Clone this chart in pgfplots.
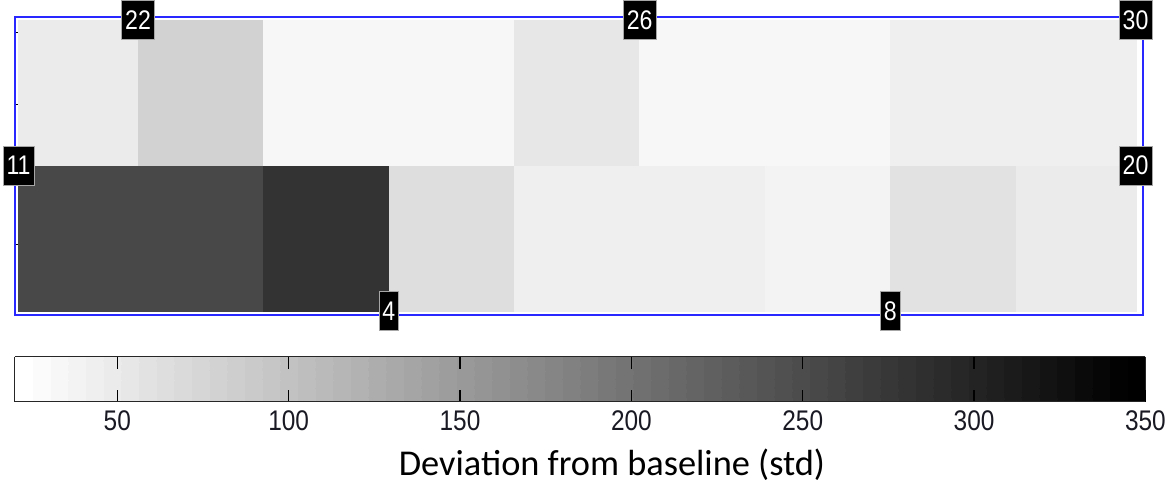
\documentclass[border=0pt]{standalone}
\usepackage{fontspec}
\setmainfont{Liberation Sans}
\newfontfamily\numfont[FakeStretch=0.86]{Liberation Sans}
\newfontfamily\titlefont{Carlito}
\usepackage{pgfplots}
\pgfplotsset{compat=1.18}
\definecolor{framblue}{RGB}{40,40,255}
\definecolor{ticktext}{RGB}{25,25,35}
\pgfplotsset{
  colormap={wb}{gray(0cm)=(1); gray(1cm)=(0)},
  colormap={wb64}{samples of colormap=(64 of wb)},
}
\begin{document}
\begin{tikzpicture}
\path[use as bounding box] (0,0) rectangle (1165bp,486bp);
\begin{axis}[
  at={(15bp,171bp)}, anchor=south west,
  scale only axis, width=1128bp, height=298bp,
  xmin=0.019, xmax=9.014, ymin=-0.0275, ymax=2.0206,
  axis line style={framblue, line width=1.6bp},
  xtick=\empty,
  ytick={0.454,1.416,1.911}, yticklabels={},
  ytick pos=left, tick align=inside,
  major tick length=3bp, tick style={black, line width=1bp},
  clip=false,
  colormap name=wb64,
  colormap access=piecewise constant,
  point meta min=20, point meta max=350,
  colorbar horizontal,
  colorbar style={
    at={(parent axis.south west)}, anchor=north west,
    xshift=-0.5bp, yshift=-33bp,
    scale only axis, width=1131bp, height=45bp,
    xtick={50,100,...,350},
    xtick pos=both, xticklabel pos=lower,
    xticklabel style={font=\numfont\fontsize{28.5}{28.5}\selectfont, text=ticktext, inner sep=0pt, yshift=-9bp},
    /pgf/number format/assume math mode=true,
    tick align=inside, major tick length=12bp,
    tick style={black, line width=1.5bp},
    axis line style={black!85, line width=1.5bp},
    xlabel={Deviation from baseline (std)},
    xlabel style={font=\titlefont\fontsize{36.5}{36.5}\selectfont, at={(axis description cs:0.5,0)}, anchor=base, xshift=32bp, yshift=-74bp, inner sep=0pt},
  },
]
% cell corners; each cell takes the value at its lower-left corner
\addplot[surf, shader=flat corner, mesh/cols=10, point meta=explicit] table[meta=v] {
x y v
0.043 0 252.9
1 0 252.9
2 0 281.4
3 0 64.0
4 0 42.0
5 0 42.0
6 0 36.8
7 0 58.8
8 0 47.2
8.959 0 47.2
0.043 1 47.2
1 1 80.8
2 1 31.6
3 1 31.6
4 1 53.7
5 1 31.6
6 1 31.6
7 1 43.3
8 1 43.3
8.959 1 43.3
0.043 2 47.2
1 2 80.8
2 2 31.6
3 2 31.6
4 2 53.7
5 2 31.6
6 2 31.6
7 2 43.3
8 2 43.3
8.959 2 43.3
};
\addplot[only marks, mark=*, mark size=0pt, mark options={draw=none, fill=none},
  nodes near coords, point meta=explicit symbolic,
  every node near coord/.append style={anchor=center, fill=black, draw=gray!70, line width=0.6bp, text=white, font=\numfont\fontsize{27}{27}\selectfont, inner xsep=3.5bp, inner ysep=0pt, minimum height=39bp}]
  table[meta=lab] {
x y lab
1 2 22
5 2 26
8.955 2 30
0.047 1 11
8.955 1 20
3 0 4
7 0 8
};
\end{axis}
\end{tikzpicture}
\end{document}
